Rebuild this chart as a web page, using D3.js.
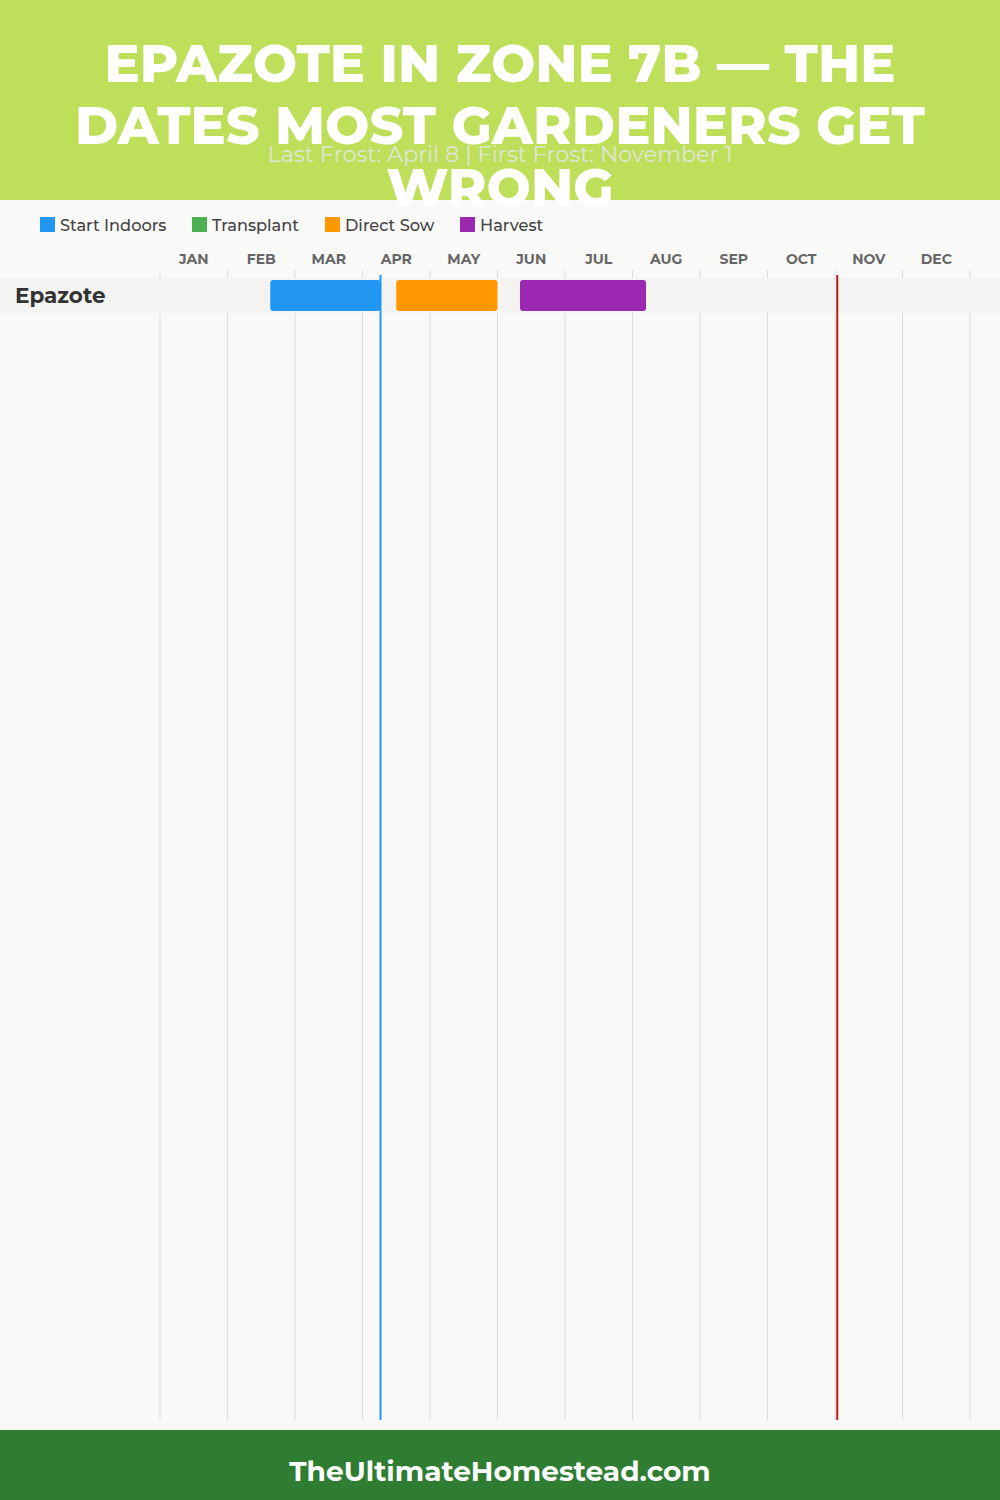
<!DOCTYPE html>
<html><head><meta charset="utf-8">
<script src="https://cdn.jsdelivr.net/npm/d3@7"></script>
<style>
html,body{margin:0;padding:0;background:#f9f9f7;}
svg{display:block;}
</style></head>
<body>
<svg id="chart" width="1000" height="1500"></svg>
<script>
const titleLines = ["EPAZOTE IN ZONE 7B — THE", "DATES MOST GARDENERS GET", "WRONG"];
const subtitle = "Last Frost: April 8 | First Frost: November 1";
const footerText = "TheUltimateHomestead.com";
const months = ["JAN","FEB","MAR","APR","MAY","JUN","JUL","AUG","SEP","OCT","NOV","DEC"];
const legendNames = ["Start Indoors","Transplant","Direct Sow","Harvest"];
const legendColors = ["#2196F3","#4CAF50","#FF9800","#9C27B0"];
const crops = ["Epazote"];
// tasks: [crop, phase, start month(1-12), start day, end month, end day]
const taskCrop  = ["Epazote","Epazote","Epazote"];
const taskPhase = ["Start Indoors","Direct Sow","Harvest"];
const taskStart = [[2,19],[4,15],[6,10]];
const taskEnd   = [[4,8],[5,30],[8,6]];
const lastFrost = [4,8];
const firstFrost = [11,1];

const W = 1000, H = 1500;
const svg = d3.select("#chart");
const font = "Montserrat, Inter, 'Open Sans', sans-serif";
const toVal = md => (md[0]-1) + md[1]/30;

svg.append("rect").attr("width",W).attr("height",H).attr("fill","#f9f9f7");

const x = d3.scaleLinear().domain([0,12]).range([160,970]);
const y = d3.scaleBand().domain(crops).range([278,313]);

// gridlines
svg.append("g").selectAll("line").data(d3.range(13)).join("line")
  .attr("x1",d=>x(d)).attr("x2",d=>x(d)).attr("y1",270).attr("y2",1420)
  .attr("stroke","#dddddd").attr("stroke-width",1);

// month labels
svg.append("g").selectAll("text").data(months).join("text")
  .attr("x",(d,i)=>x(i+0.5)).attr("y",264).attr("text-anchor","middle")
  .attr("font-family",font).attr("font-weight",700).attr("font-size",14)
  .attr("fill","#666").text(d=>d);

// row bands
svg.append("g").selectAll("rect").data(crops).join("rect")
  .attr("x",0).attr("width",W).attr("y",d=>y(d)).attr("height",y.bandwidth())
  .attr("fill","#f3f3f2");
svg.append("g").selectAll("text").data(crops).join("text")
  .attr("x",15).attr("y",d=>y(d)+y.bandwidth()/2+7.5)
  .attr("font-family",font).attr("font-weight",700).attr("font-size",21.5)
  .attr("fill","#333").text(d=>d);

// bars
const color = d3.scaleOrdinal().domain(legendNames).range(legendColors);
const tasks = taskCrop.map((c,i)=>({crop:c,phase:taskPhase[i],s:toVal(taskStart[i]),e:toVal(taskEnd[i])}));
svg.append("g").selectAll("rect").data(tasks).join("rect")
  .attr("x",d=>x(d.s)).attr("width",d=>x(d.e)-x(d.s))
  .attr("y",d=>y(d.crop)+2).attr("height",y.bandwidth()-4)
  .attr("rx",3).attr("fill",d=>color(d.phase));

// frost lines
svg.append("line").attr("x1",x(toVal(lastFrost))).attr("x2",x(toVal(lastFrost)))
  .attr("y1",275).attr("y2",1420).attr("stroke","#2196F3").attr("stroke-width",2);
svg.append("line").attr("x1",x(toVal(firstFrost))).attr("x2",x(toVal(firstFrost)))
  .attr("y1",275).attr("y2",1420).attr("stroke","#b71c1c").attr("stroke-width",2);

// header
svg.append("rect").attr("width",W).attr("height",200).attr("fill","#bddf5a");
const tl = svg.append("g").selectAll("text").data(titleLines).join("text")
  .attr("x",500).attr("y",(d,i)=>82+i*62).attr("text-anchor","middle")
  .attr("font-family",font).attr("font-weight",800).attr("font-size",52)
  .attr("fill","#fff").text(d=>d);
// fit line 2 to measured width
const n2 = tl.nodes()[1];
const w2 = n2.getComputedTextLength();
const fs = 52*850/w2;
tl.attr("font-size",fs);
svg.append("text").attr("x",500).attr("y",162).attr("text-anchor","middle")
  .attr("font-family",font).attr("font-size",22.4).attr("fill","#e2e6d8").text(subtitle);

// legend
const lx = [40,192,325,460];
const lg = svg.append("g").selectAll("g").data(legendNames).join("g")
  .attr("transform",(d,i)=>`translate(${lx[i]},217)`);
lg.append("rect").attr("width",15).attr("height",15).attr("fill",d=>color(d));
lg.append("text").attr("x",20).attr("y",13.5).attr("font-family",font)
  .attr("font-weight",500).attr("font-size",16.2).attr("fill","#444").text(d=>d);

// footer
svg.append("rect").attr("y",1430).attr("width",W).attr("height",70).attr("fill","#2e7d32");
svg.append("text").attr("x",500).attr("y",1481).attr("text-anchor","middle")
  .attr("font-family",font).attr("font-weight",700).attr("font-size",28)
  .attr("fill","#fff").text(footerText);
</script>
</body></html>
